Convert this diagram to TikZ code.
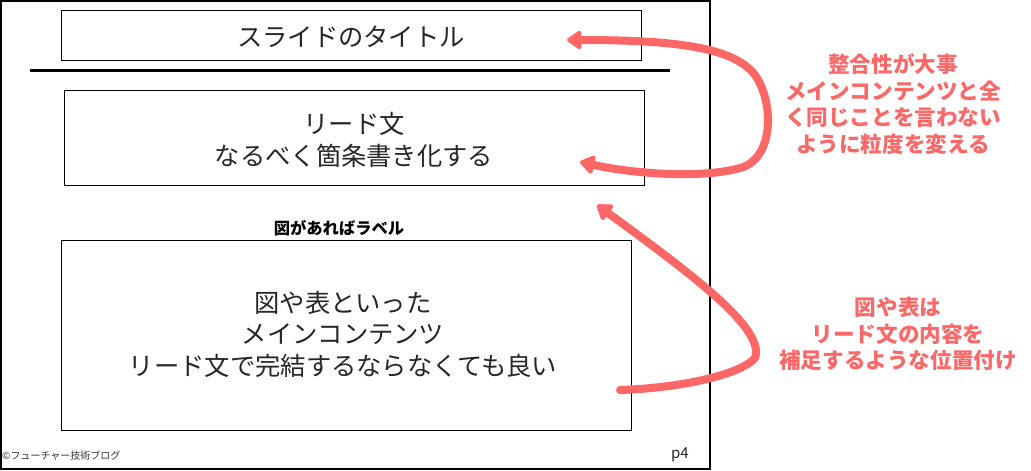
\documentclass[tikz,border=0pt]{standalone}
\usepackage{fontspec}
\setmainfont{Noto Sans CJK JP}
\usetikzlibrary{arrows.meta}
\definecolor{salmon}{RGB}{255,102,102}
\definecolor{salmontext}{RGB}{250,104,104}
\tikzset{
  box/.style={draw=black, line width=1pt},
  bigtext/.style={font=\fontsize{25.3}{31.5}\selectfont, align=center, text=black!85, inner sep=0pt},
  note/.style={font=\fontsize{21.6}{26.5}\selectfont\bfseries, align=center, text=salmontext, inner sep=0pt},
  curvearrow/.style={draw=salmon, line width=8pt, line cap=round, line join=round},
  headtip/.tip={Triangle[length=16pt,width=21pt,round]}
}
\begin{document}
\begin{tikzpicture}[x=1pt,y=-1pt]
\useasboundingbox (0,0) rectangle (1031,471);
\fill[white] (0,0) rectangle (1031,471);
% slide frame
\draw[line width=1.5pt] (1,1) rectangle (710,469);
% title box
\node[box, minimum width=580pt, minimum height=50pt, anchor=north west] (title) at (61,10) {};
\node[bigtext] (titletext) at (351,37) {スライドのタイトル};
% rule
\draw[line width=3pt] (30,70) -- (670,70);
% lead box
\node[box, minimum width=580pt, minimum height=95pt, anchor=north west] (lead) at (64,90) {};
\node[bigtext] (leadtext) at (354,140) {リード文\\なるべく箇条書き化する};
% label
\node[font=\fontsize{16.3}{19}\selectfont\bfseries, inner sep=0pt] (label) at (339,228) {図があればラベル};
% main box
\node[box, minimum width=570pt, minimum height=190pt, anchor=north west] (main) at (61,240) {};
\node[bigtext] (maintext) at (343,334) {図や表といった\\メインコンテンツ\\リード文で完結するならなくても良い};
% footer
\node[font=\fontsize{10}{12}\selectfont, text=black!80, anchor=west, inner sep=0pt] (copy) at (2,456) {©フューチャー技術ブログ};
\node[font=\fontsize{15}{18}\selectfont, text=black!85, inner sep=0pt] (page) at (680,455) {p4};
% notes
\node[note] (note1) at (893,104) {整合性が大事\\メインコンテンツと全\\く同じことを言わない\\ように粒度を変える};
\node[note] (note2) at (898,334) {図や表は\\リード文の内容を\\補足するような位置付け};
% arrows
\coordinate (a1s) at (567,40);
\coordinate (a1e) at (580,162);
\coordinate (a2s) at (620,390);
\coordinate (a2e) at (597,205);
\draw[curvearrow, headtip-headtip]
  (a1s) .. controls (680,40) and (738,48) .. (757,78)
        .. controls (775,108) and (772,160) .. (740,168)
        .. controls (705,178) and (640,175) .. (a1e);
\draw[curvearrow, -headtip]
  (a2s) .. controls (680,388) and (740,375) .. (755,358)
        .. controls (765,330) and (700,280) .. (a2e);
\end{tikzpicture}
\end{document}
